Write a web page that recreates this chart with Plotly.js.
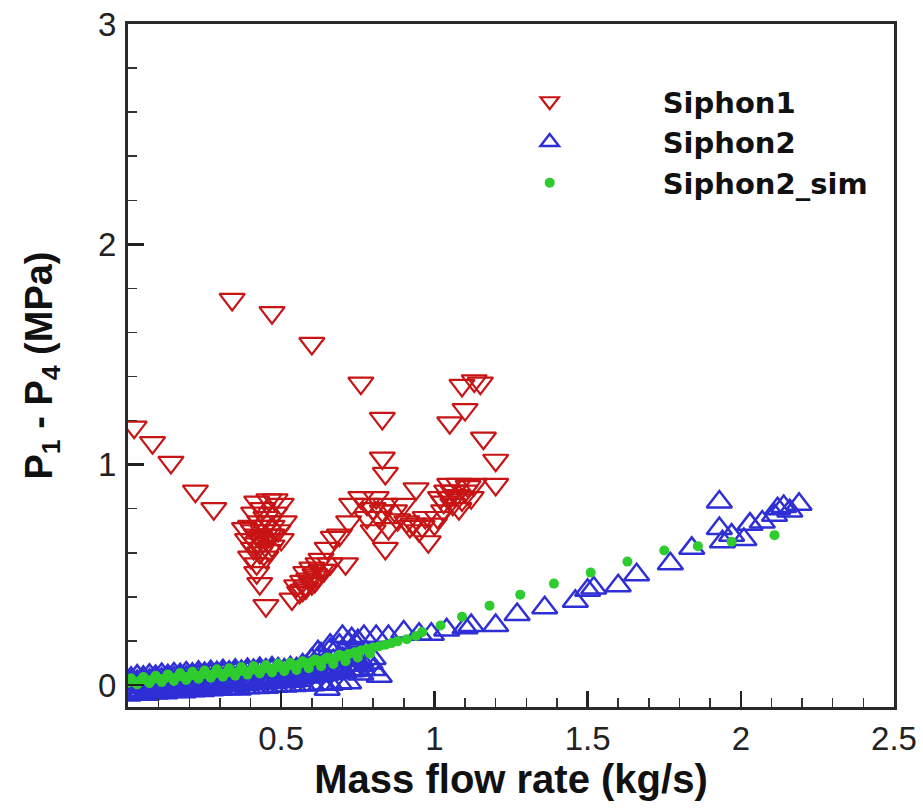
<!DOCTYPE html>
<html>
<head>
<meta charset="utf-8">
<script src="https://cdn.plot.ly/plotly-3.0.1.min.js"></script>
<style>html,body{margin:0;padding:0;background:#fff;}#chart{width:923px;height:808px;}</style>
</head>
<body>
<div id="chart"></div>
<script>
// ---- Data ----
const siphon1X = [0.02,0.08,0.14,0.22,0.28,0.34,0.47,0.60,0.76,0.83,0.83,0.84,1.05,1.10,1.09,1.13,1.15,1.16,1.20,1.20,
  0.38,0.39,0.40,0.41,0.41,0.42,0.42,0.43,0.43,0.43,0.44,0.44,0.44,0.45,0.45,0.45,0.46,0.46,0.47,0.47,0.48,0.48,0.49,0.50,0.51,0.50,0.42,0.40,0.42,0.46,
  0.41,0.43,0.45,0.44,0.46,0.42,0.47,0.45,
  0.535,0.56,0.55,0.57,0.59,0.58,0.60,0.60,0.61,0.62,0.63,0.64,0.65,0.66,0.67,0.69,0.71,0.72,0.62,
  0.58,0.61,0.63,0.57,
  0.73,0.76,0.78,0.81,0.84,0.78,0.82,0.87,0.80,0.85,0.84,0.90,0.94,0.93,0.95,0.98,1.00,0.91,0.88,0.97,
  0.80,0.83,0.92,0.96,
  1.02,1.05,1.08,1.10,1.06,1.03,1.12,1.08,1.04,1.13,1.01,1.07,
  1.05,1.09,1.06,1.11,1.03];
const siphon1Y = [1.17,1.10,1.01,0.88,0.80,1.75,1.69,1.55,1.37,1.21,1.03,0.96,1.19,1.25,1.36,1.38,1.37,1.12,1.02,0.91,
  0.71,0.66,0.72,0.62,0.78,0.55,0.68,0.74,0.60,0.46,0.80,0.65,0.70,0.36,0.58,0.76,0.84,0.68,0.72,0.63,0.78,0.84,0.70,0.82,0.74,0.66,0.83,0.58,0.51,0.61,
  0.70,0.67,0.72,0.62,0.74,0.64,0.68,0.66,
  0.39,0.42,0.45,0.47,0.48,0.51,0.46,0.53,0.50,0.55,0.57,0.52,0.62,0.55,0.67,0.68,0.55,0.74,0.49,
  0.44,0.47,0.52,0.43,
  0.82,0.85,0.82,0.85,0.82,0.76,0.76,0.79,0.70,0.71,0.62,0.82,0.89,0.73,0.70,0.65,0.73,0.74,0.75,0.76,
  0.80,0.79,0.72,0.72,
  0.85,0.91,0.91,0.88,0.82,0.79,0.85,0.80,0.88,0.91,0.76,0.86,
  0.85,0.84,0.88,0.90,0.83];

const siphon2X = [
  // dense band, lower row
  0.00,0.03,0.06,0.09,0.12,0.15,0.18,0.21,0.24,0.27,0.30,0.33,0.36,0.39,0.42,0.45,0.48,0.51,0.54,0.57,0.60,0.63,0.66,0.69,0.72,
  // dense band, lower-middle row
  0.005,0.025,0.045,0.065,0.085,0.105,0.125,0.145,0.165,0.185,0.205,0.225,0.245,0.265,0.285,0.305,0.325,0.345,0.365,0.385,
  0.405,0.425,0.445,0.465,0.485,0.505,0.525,0.545,0.565,0.585,0.605,0.625,0.645,0.665,0.685,0.705,0.725,0.745,0.765,
  0.00,0.02,0.04,0.06,0.08,0.10,0.12,0.14,0.16,0.18,0.20,0.22,0.24,0.26,0.28,0.30,0.32,0.34,0.36,0.38,0.40,0.42,0.44,0.46,0.48,0.50,0.52,0.54,0.56,
  // dense band, middle row
  0.015,0.045,0.075,0.105,0.135,0.165,0.195,0.225,0.255,0.285,0.315,0.345,0.375,0.405,0.435,0.465,0.495,0.525,0.555,0.585,0.615,0.645,0.675,0.705,0.735,
  0.01,0.03,0.05,0.07,0.09,0.11,0.13,0.15,0.17,0.19,0.21,0.23,0.25,0.27,0.29,0.31,0.33,0.35,0.37,0.39,0.41,0.43,0.45,0.47,0.49,0.51,0.53,0.55,
  // dense band, upper row
  0.01,0.05,0.09,0.13,0.17,0.21,0.25,0.29,0.33,0.37,0.41,0.45,0.49,0.53,0.57,0.60,0.63,0.66,0.69,0.72,0.75,
  0.03,0.07,0.11,0.15,0.19,0.23,0.27,0.31,0.35,0.39,0.43,0.47,
  // lump near 0.55-0.8
  0.55,0.58,0.61,0.64,0.67,0.70,0.73,0.76,0.79,0.56,0.60,0.64,0.68,0.72,0.76,0.80,
  // scattered
  0.65,0.76,0.80,0.82,
  0.62,0.66,0.70,0.73,0.77,0.81,0.85,0.90,0.95,0.99,1.04,1.10,1.12,1.20,1.27,1.36,1.46,1.50,1.52,1.60,1.66,1.77,1.84,
  1.93,1.93,1.94,1.97,2.01,2.03,2.07,2.11,2.12,2.14,2.16,2.19];
const siphon2Y = [
  -0.045,-0.04,-0.042,-0.036,-0.035,-0.03,-0.031,-0.026,-0.025,-0.022,-0.02,-0.017,-0.018,-0.013,-0.012,-0.01,-0.006,-0.005,-0.002,0.0,0.001,0.004,0.003,0.008,0.01,
  -0.028,-0.025,-0.024,-0.02,-0.019,-0.016,-0.014,-0.012,-0.01,-0.008,-0.006,-0.004,-0.002,0.0,0.002,0.004,0.006,0.008,0.01,0.012,
  0.014,0.016,0.018,0.02,0.022,0.024,0.027,0.03,0.033,0.036,0.04,0.044,0.048,0.052,0.056,0.06,0.064,0.068,0.07,
  -0.036,-0.034,-0.031,-0.03,-0.027,-0.026,-0.023,-0.021,-0.02,-0.017,-0.016,-0.013,-0.011,-0.01,-0.007,-0.005,-0.003,-0.001,0.001,0.003,0.005,0.007,0.009,0.011,0.013,0.015,0.017,0.019,0.021,
  -0.01,-0.005,0.0,0.002,0.006,0.008,0.01,0.013,0.016,0.018,0.02,0.024,0.026,0.028,0.031,0.034,0.036,0.04,0.043,0.047,0.05,0.055,0.058,0.062,0.066,
  0.014,0.016,0.019,0.021,0.023,0.026,0.028,0.03,0.032,0.035,0.037,0.039,0.041,0.044,0.046,0.048,0.05,0.052,0.054,0.056,0.058,0.06,0.062,0.064,0.066,0.068,0.07,0.072,
  0.03,0.035,0.038,0.042,0.046,0.048,0.052,0.055,0.058,0.061,0.065,0.068,0.072,0.078,0.09,0.115,0.14,0.16,0.18,0.19,0.2,
  0.04,0.044,0.047,0.05,0.054,0.057,0.06,0.064,0.067,0.07,0.074,0.077,
  0.07,0.08,0.09,0.10,0.11,0.12,0.12,0.11,0.10,0.05,0.06,0.07,0.08,0.09,0.09,0.12,
  -0.02,0.05,0.07,0.04,
  0.15,0.18,0.22,0.21,0.22,0.22,0.22,0.24,0.23,0.23,0.25,0.26,0.27,0.27,0.32,0.35,0.38,0.43,0.44,0.45,0.50,0.55,0.62,
  0.83,0.71,0.65,0.68,0.66,0.73,0.74,0.77,0.80,0.81,0.79,0.82];

const simX = [0.00,0.02,0.04,0.06,0.08,0.10,0.12,0.14,0.16,0.18,0.20,0.22,0.24,0.26,0.28,0.30,0.32,0.34,0.36,0.38,0.40,0.42,0.44,0.46,0.48,0.50,
  0.52,0.54,0.56,0.58,0.60,0.62,0.64,0.66,0.68,0.70,0.72,0.74,0.76,0.78,0.80,0.82,0.84,0.86,0.88,0.91,0.94,
  0.01,0.05,0.09,0.13,0.17,0.21,0.25,0.29,0.33,0.37,0.41,0.45,0.49,0.53,0.57,0.61,0.65,0.69,
  0.03,0.07,0.11,0.15,0.19,0.23,0.27,0.31,0.35,0.39,0.43,0.47,0.51,0.55,0.59,0.63,0.67,0.71,0.75,0.79,
  0.96,1.02,1.09,1.18,1.28,1.39,1.51,1.63,1.75,1.86,1.97,2.11];
const simY = [0.010,0.015,0.020,0.022,0.025,0.028,0.030,0.033,0.036,0.038,0.040,0.043,0.046,0.048,0.050,0.053,0.055,0.058,0.060,0.063,0.066,0.069,0.072,0.075,0.078,0.081,
  0.085,0.090,0.095,0.100,0.105,0.110,0.115,0.120,0.126,0.132,0.140,0.148,0.156,0.163,0.170,0.176,0.182,0.190,0.198,0.208,0.222,
  0.030,0.036,0.042,0.048,0.054,0.060,0.066,0.071,0.076,0.081,0.086,0.091,0.096,0.101,0.108,0.116,0.125,0.137,
  0.002,0.008,0.013,0.018,0.023,0.028,0.033,0.038,0.042,0.047,0.052,0.057,0.062,0.068,0.076,0.085,0.095,0.108,0.125,0.142,
  0.24,0.27,0.31,0.36,0.41,0.46,0.51,0.56,0.61,0.63,0.65,0.68];

const seriesNames = ['Siphon1','Siphon2','Siphon2_sim'];
const xTickVals = [0,0.5,1,1.5,2,2.5];
const xTickText = ['','0.5','1','1.5','2','2.5'];
const yTickVals = [0,1,2,3];
const yTickText = ['0','1','2','3'];

const traces = [
  {x: siphon1X, y: siphon1Y, name: seriesNames[0], type: 'scatter', mode: 'markers',
   marker: {symbol: 'triangle-down-open', size: 22, color: '#c81414', line: {width: 2.2, color: '#c81414'}}},
  {x: siphon2X, y: siphon2Y, name: seriesNames[1], type: 'scatter', mode: 'markers',
   marker: {symbol: 'triangle-up-open', size: 22, color: '#2f2fd6', line: {width: 2.5, color: '#2f2fd6'}}},
  {x: simX, y: simY, name: seriesNames[2], type: 'scatter', mode: 'markers',
   marker: {symbol: 'circle', size: 10, color: '#2ecc2e', line: {width: 0}}}
];

const axisFont = {family: 'Liberation Sans, Arial, sans-serif', size: 33, color: '#222'};
const layout = {
  width: 923, height: 808,
  margin: {l: 128, r: 29, t: 24, b: 101, pad: 0},
  paper_bgcolor: '#fff', plot_bgcolor: '#fff',
  showlegend: true,
  legend: {x: 0.403, y: 0.924, xanchor: 'left', yanchor: 'top', bgcolor: 'rgba(0,0,0,0)',
    itemwidth: 216, tracegroupgap: 0,
    font: {family: 'DejaVu Sans, sans-serif', size: 29, color: '#111', weight: 'bold'}},
  xaxis: {range: [0, 2.5], tickmode: 'array', tickvals: xTickVals, ticktext: xTickText,
    ticks: 'inside', ticklen: 16, tickwidth: 2.5, tickcolor: '#222',
    minor: {tickmode: 'linear', tick0: 0, dtick: 0.1, ticks: 'inside', ticklen: 9, tickwidth: 1.5, tickcolor: '#333'},
    showline: true, linewidth: 3, linecolor: '#2a2a2a', mirror: true, showgrid: false, zeroline: false,
    tickfont: axisFont, ticklabelstandoff: 0,
    title: {text: 'Mass flow rate (kg/s)', font: {family: 'Liberation Sans, Arial, sans-serif', size: 40, color: '#111', weight: 'bold'}, standoff: 9}},
  yaxis: {range: [-0.1, 3], tickmode: 'array', tickvals: yTickVals, ticktext: yTickText,
    ticks: 'inside', ticklen: 16, tickwidth: 2.5, tickcolor: '#222',
    minor: {tickmode: 'linear', tick0: 0, dtick: 0.2, ticks: 'inside', ticklen: 9, tickwidth: 1.5, tickcolor: '#333'},
    showline: true, linewidth: 3, linecolor: '#2a2a2a', mirror: true, showgrid: false, zeroline: false,
    tickfont: axisFont, ticklabelstandoff: 2,
    title: {text: 'P<sub>1</sub> - P<sub>4</sub> (MPa)', font: {family: 'Liberation Sans, Arial, sans-serif', size: 38, color: '#111', weight: 'bold'}, standoff: 34}}
};

Plotly.newPlot('chart', traces, layout, {displayModeBar: false, staticPlot: true});
</script>
</body>
</html>
